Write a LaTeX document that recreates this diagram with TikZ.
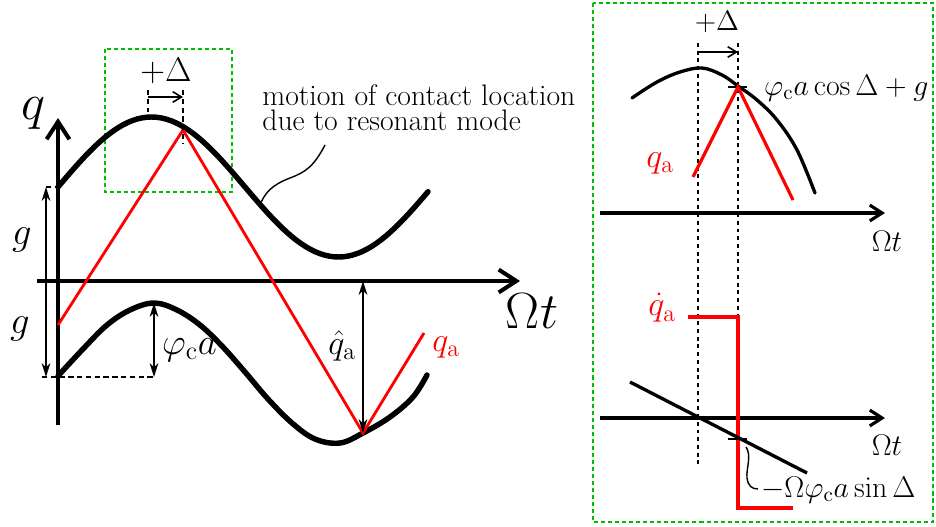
\RequirePackage{fix-cm}
\documentclass[tikz,border=0pt]{standalone}
\usepackage{amsmath}
\usetikzlibrary{arrows.meta,calc}
\definecolor{figgreen}{RGB}{0,190,0}
\definecolor{figred}{RGB}{255,0,0}

\begin{document}
\begin{tikzpicture}[x=0.02cm,y=-0.02cm,
            axisline/.style={line width=2.3pt,-{Straight Barb[length=10pt,width=13pt]}},
            smallaxis/.style={line width=1.8pt,-{Straight Barb[length=7pt,width=9pt]}},
            curve/.style={line width=3.1pt,line cap=round},
            thincurve/.style={line width=1.9pt,line cap=round},
            redline/.style={figred,line width=1.6pt},
            dimarrow/.style={line width=0.8pt,{Stealth[length=8pt,width=5pt]}-{Stealth[length=8pt,width=5pt]}},
            deltaarrow/.style={line width=0.9pt,-{Straight Barb[length=5pt,width=6pt]}},
            guide/.style={line width=0.8pt,dash pattern=on 3pt off 2pt},
            vguide/.style={line width=0.7pt,dash pattern=on 2.2pt off 2.2pt},
            zoomframe/.style={figgreen,line width=0.9pt,dash pattern=on 2.3pt off 1.7pt},
            tick/.style={line width=1pt},
            lblq/.style={font=\fontsize{29}{30}\selectfont},
            lblom/.style={font=\fontsize{29}{30}\selectfont},
            lblg/.style={font=\fontsize{22}{24}\selectfont},
            lblphi/.style={font=\fontsize{21}{23}\selectfont},
            lblsm/.style={font=\fontsize{19.5}{21}\selectfont},
            lblnote/.style={font=\fontsize{16.9}{14.5}\selectfont,align=left,inner sep=0pt},
            lblright/.style={font=\fontsize{17}{19}\selectfont}]
            \useasboundingbox (0,0) rectangle (936,527);
            \draw[zoomframe] (105,49) rectangle (232,192);
            \draw[zoomframe] (593,3) rectangle (933,522);

            \coordinate (xs)  at (37,281);  \coordinate (xe)  at (520,281);
            \coordinate (ys)  at (58,425);  \coordinate (ye)  at (58,118);
            \draw[axisline] (xs) -- (xe);
            \draw[axisline] (ys) -- (ye);
            \node[lblq]  (qlab)  at (33,113)  {$q$};
            \node[lblom] (omlab) at (532,311) {$\Omega t$};

            \draw[curve] plot[domain=58:428,samples=80] (\x,{187-70*sin((\x-58)/187*180)});
            \draw[curve] plot[smooth,tension=0.6] coordinates {(58,376) (83,349) (107,325)
                (130,310) (154,303) (177,310) (200,325) (222,346) (245,372) (268,399)
                (292,423) (315,439) (340,443) (363,433) (390,417) (413,397) (427,375)};

            \coordinate (r0) at (58,325);  \coordinate (r1) at (183,130);
            \coordinate (r2) at (363,433); \coordinate (r3) at (424,333);
            \draw[redline] (r0) -- (r1) -- (r2) -- (r3);
            \node[lblsm,figred] (qalab) at (446,347) {$q_\mathrm{a}$};

            \coordinate (ga) at (46,187); \coordinate (gb) at (46,377);
            \coordinate (gx) at (46,281);
            \draw[dimarrow] (ga) -- (gb);
            \draw[guide] (ga) -- (58,187);
            \node[lblg] (g1) at (22,240) {$g$};
            \node[lblg] (g2) at (20,329) {$g$};

            \coordinate (pa) at (154,303); \coordinate (pb) at (154,377);
            \draw[dimarrow] (pa) -- (pb);
            \draw[guide] (42,377) -- (pb);
            \node[lblphi,anchor=west] (philab) at (156,350) {$\varphi_\mathrm{c}a$};

            \coordinate (ha) at (363,281);
            \draw[dimarrow] (ha) -- (r2);
            \node[lblsm] (qhat) at (342,346) {$\hat{q}_\mathrm{a}$};

            \coordinate (d1) at (148,90); \coordinate (d2) at (183,90);
            \draw[guide] (d1) -- (148,112);
            \draw[guide] (d2) -- (183,143);
            \draw[deltaarrow] (148,97) -- (183,97);
            \node[lblsm] (dlab) at (166,71) {$+\Delta$};

            \node[lblnote,anchor=north west] (note) at (262,84)
                {motion of contact location\\due to resonant mode};
            \coordinate (n0) at (325,145); \coordinate (n1) at (259,207);
            \draw[line width=0.8pt] (n0) .. controls (314,166) and (306,172) .. (290,178)
                .. controls (272,185) and (265,192) .. (n1);

            \coordinate (ta) at (600,213); \coordinate (tb) at (885,213);
            \draw[smallaxis] (ta) -- (tb);
            \node[lblright] (om2) at (887,241) {$\Omega t$};
            \coordinate (v1) at (698,43); \coordinate (v2) at (738,43);
            \draw[vguide] (v1) -- (698,467);
            \draw[vguide] (v2) -- (738,317);
            \draw[deltaarrow] (698,52) -- (738,52);
            \node[lblright,font=\fontsize{16}{18}\selectfont] (dlab2) at (717,22) {$+\Delta$};
            \draw[thincurve] plot[smooth,tension=0.6] coordinates {(632,98) (657,82) (680,72)
                (702,68) (722,75) (738,86) (757,100) (777,120) (797,150) (815,193)};
            \coordinate (c1) at (738,87);
            \draw[tick] (728,87) -- (747,87);
            \node[lblright,anchor=west] (cos) at (758,88) {$\varphi_\mathrm{c}a\cos\Delta+g$};
            \draw[redline,line width=1.8pt] (693,177) -- (c1) -- (793,200);
            \node[lblsm,figred] (qa2) at (660,163) {$q_\mathrm{a}$};

            \coordinate (ba) at (600,418); \coordinate (bb) at (885,418);
            \draw[smallaxis] (ba) -- (bb);
            \node[lblright] (om3) at (887,445) {$\Omega t$};
            \coordinate (s0) at (688,317); \coordinate (s1) at (738,317);
            \coordinate (s2) at (738,508); \coordinate (s3) at (793,508);
            \draw[redline,line width=1.8pt] (s0) -- (s1) -- (s2) -- (s3);
            \node[lblsm,figred] (qdot) at (662,308) {$\dot{q}_\mathrm{a}$};
            \coordinate (l0) at (630,382); \coordinate (l1) at (807,473);
            \draw[line width=1.9pt] (l0) -- (l1);
            \coordinate (c2) at (738,439);
            \draw[tick] (728,439) -- (747,439);
            \coordinate (w0) at (746,447); \coordinate (w1) at (758,489);
            \draw[line width=0.8pt] (w0) .. controls (752,456) and (746,468) .. (747,478)
                .. controls (748,486) and (752,489) .. (w1);
            \node[lblright,anchor=west] (sin) at (755,490) {$-\Omega\varphi_\mathrm{c}a\sin\Delta$};
\end{tikzpicture}
\end{document}
